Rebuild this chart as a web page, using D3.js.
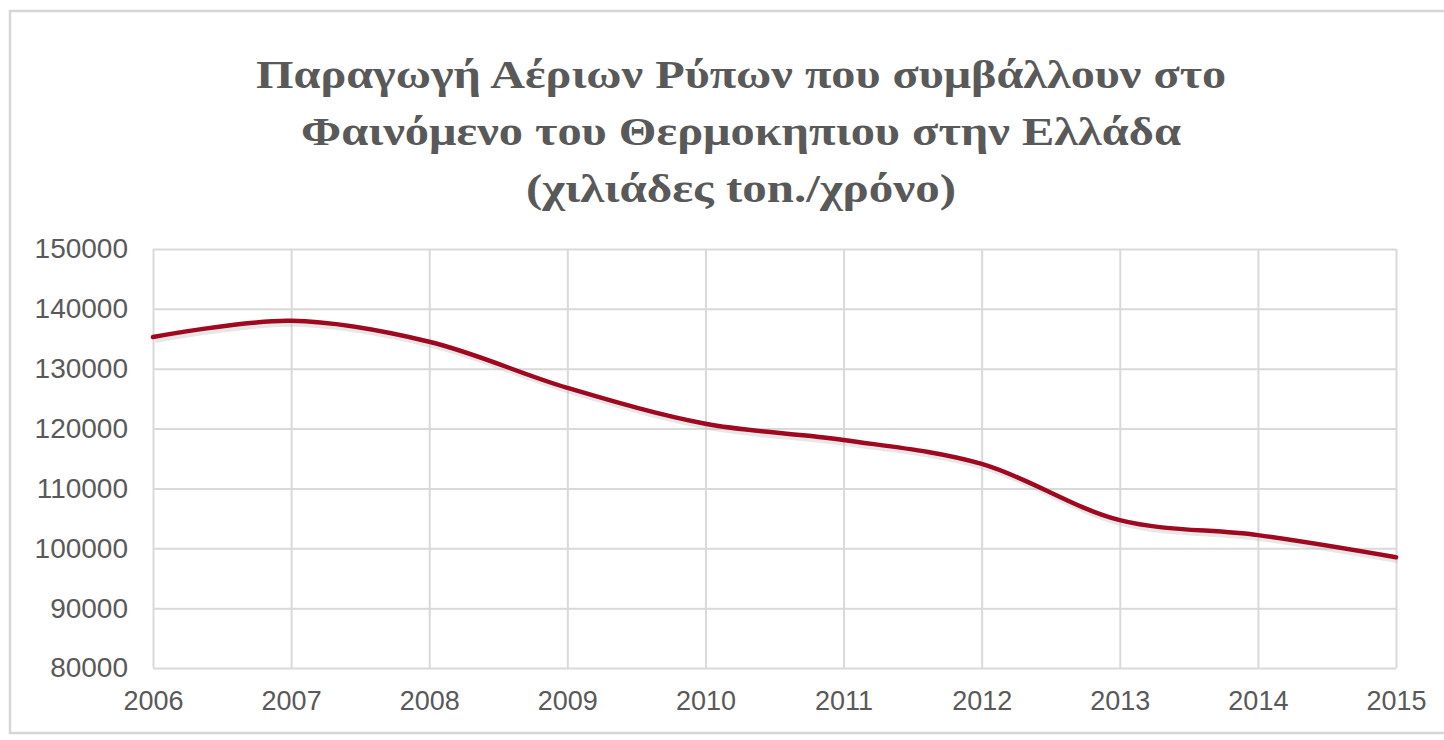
<!DOCTYPE html>
<html><head><meta charset="utf-8">
<script src="https://cdn.jsdelivr.net/npm/d3@7"></script>
<style>body{margin:0;background:#fff}svg{display:block}</style>
</head><body>
<svg id="c" width="1444" height="740"></svg>
<script>
const titleLines = ["Παραγωγή Αέριων Ρύπων που συμβάλλουν στο","Φαινόμενο του Θερμοκηπιου στην Ελλάδα","(χιλιάδες ton./χρόνο)"];
const years = ["2006","2007","2008","2009","2010","2011","2012","2013","2014","2015"];
const values = [135300,138000,134500,126800,120800,118100,114100,104700,102200,98500];
const yTicks = [80000,90000,100000,110000,120000,130000,140000,150000];

const svg = d3.select("#c");
const pL=153,pR=1396,pT=249,pB=668;
const x = d3.scalePoint().domain(years).range([pL,pR]);
const y = d3.scaleLinear().domain([80000,150000]).range([pB,pT]);

// outer frame
svg.append("rect").attr("x",10).attr("y",11).attr("width",1450).attr("height",722)
  .attr("fill","none").attr("stroke","#d6d6d6").attr("stroke-width",2.5);

// title
const tt = svg.append("g").attr("font-family","'Liberation Serif','Times New Roman',serif")
  .attr("font-weight","bold").attr("font-size",41).attr("fill","#595959").attr("text-anchor","middle");
const tw=[970,880,430];
titleLines.forEach((t,i)=>tt.append("text").attr("x",741).attr("y",88+i*57).attr("textLength",tw[i]).attr("lengthAdjust","spacingAndGlyphs").text(t));

// gridlines
const gy = svg.append("g").attr("transform",`translate(${pL},0)`)
  .call(d3.axisLeft(y).tickValues(yTicks).tickSize(-(pR-pL)).tickFormat(""));
gy.select(".domain").remove();
gy.selectAll("line").attr("stroke","#d9d9d9").attr("stroke-width",2);
const gx = svg.append("g").attr("transform",`translate(0,${pB})`)
  .call(d3.axisBottom(x).tickSize(-(pB-pT)).tickFormat(""));
gx.select(".domain").remove();
gx.selectAll("line").attr("stroke","#d9d9d9").attr("stroke-width",2);

// y labels
const yl = svg.append("g").attr("transform",`translate(${pL},0)`)
  .call(d3.axisLeft(y).tickValues(yTicks).tickSize(0).tickPadding(25).tickFormat(d=>String(d)));
yl.select(".domain").remove();
yl.selectAll("text").attr("font-family","'Liberation Sans',Arial,sans-serif").attr("font-size",28).attr("fill","#595959");

// x labels
const xl = svg.append("g").attr("transform",`translate(0,${pB})`)
  .call(d3.axisBottom(x).tickSize(0).tickPadding(23));
xl.select(".domain").remove();
xl.selectAll("text").attr("font-family","'Liberation Sans',Arial,sans-serif").attr("font-size",27).attr("fill","#595959");

// line
const line = d3.line().x((d,i)=>x(years[i])).y(d=>y(d)).curve(d3.curveCatmullRom.alpha(0.5));
svg.append("path").datum(values).attr("d",line).attr("fill","none")
  .attr("stroke","#bbbbbb").attr("stroke-width",6).attr("opacity",0.35).attr("transform","translate(2,3)");
svg.append("path").datum(values).attr("d",line).attr("fill","none")
  .attr("stroke","#a0081f").attr("stroke-width",4.5).attr("stroke-linecap","round");
</script>
</body></html>
